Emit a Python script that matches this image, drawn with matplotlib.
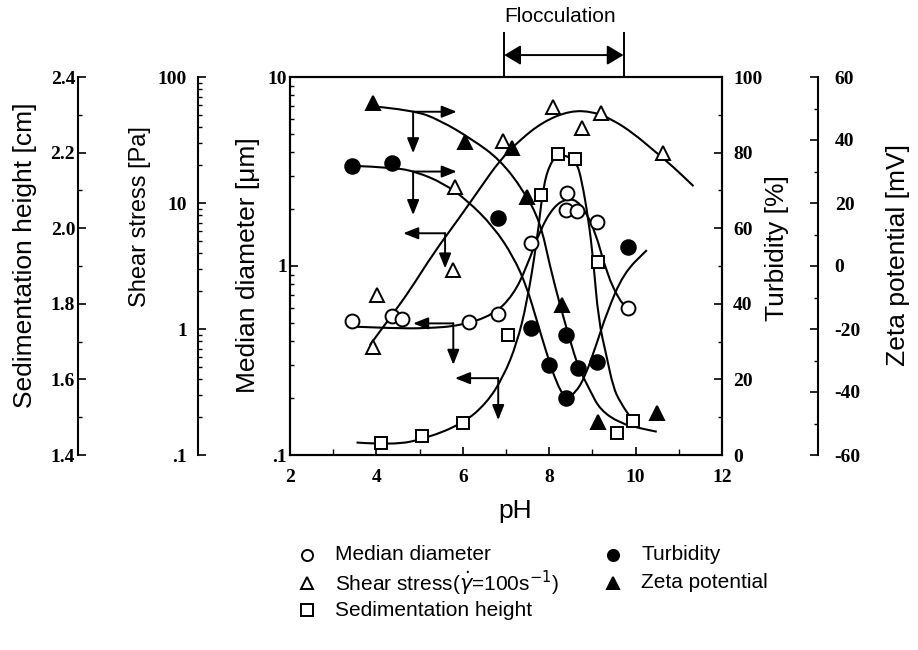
import numpy as np
import matplotlib
matplotlib.use('Agg')
import matplotlib.pyplot as plt
from matplotlib.path import Path
from matplotlib.patches import PathPatch
from matplotlib.lines import Line2D
from matplotlib.ticker import MultipleLocator, LogLocator, NullFormatter

plt.rcParams['font.family'] = ['Liberation Sans', 'DejaVu Sans']

md_ph = [3.43, 4.37, 4.59, 6.15, 6.81, 7.59, 8.42, 8.39, 8.65, 9.10, 9.83]
md_val = [0.51, 0.544, 0.522, 0.507, 0.557, 1.33, 2.42, 1.98, 1.96, 1.70, 0.60]      # um

ss_ph = [3.93, 4.01, 5.77, 5.82, 6.92, 8.08, 8.75, 9.19, 10.64]
ss_val = [0.724, 1.86, 2.94, 13.5, 31.0, 58.2, 39.1, 51.5, 25.1]                     # Pa

sh_ph = [4.10, 5.05, 6.01, 7.05, 7.80, 8.21, 8.60, 9.14, 9.58, 9.93]
sh_val = [1.431, 1.451, 1.484, 1.717, 2.088, 2.195, 2.182, 1.911, 1.459, 1.491]       # cm

tb_ph = [3.43, 4.37, 6.81, 7.59, 8.00, 8.40, 8.39, 8.67, 9.11, 9.83]
tb_val = [76.5, 77.2, 62.6, 33.5, 23.8, 31.7, 15.0, 22.9, 24.7, 54.9]                # %

zp_ph = [3.93, 6.05, 7.13, 7.48, 8.29, 9.14, 10.49]
zp_val = [51.7, 39.5, 37.4, 22.0, -12.4, -49.4, -46.8]                                # mV

# ---- hand drawn guide curves ----
md_fit_ph = [3.43, 4.39, 5.16, 5.94, 6.71, 7.17, 7.48, 7.79, 8.10, 8.41, 8.71, 9.06, 9.33, 9.64, 9.83]
md_fit = [0.478, 0.468, 0.468, 0.483, 0.551, 0.703, 0.99, 1.55, 2.06, 2.28, 2.19, 1.55, 0.915, 0.647, 0.60]

ss_fit_ph = [3.85, 4.39, 4.78, 5.32, 5.94, 6.40, 6.86, 7.32, 7.86, 8.48, 9.02, 9.48, 9.95, 10.41, 10.87, 11.34]
ss_fit = [0.746, 1.33, 2.04, 3.99, 7.79, 13.1, 21.9, 31.6, 44.2, 54.0, 53.1, 45.6, 35.7, 26.3, 19.4, 13.6]

sh_fit_ph = [3.54, 4.39, 5.16, 6.01, 6.55, 6.94, 7.25, 7.48, 7.71, 7.86, 8.02, 8.21, 8.48, 8.64,
             8.75, 8.91, 9.02, 9.14, 9.33, 9.48, 9.64, 9.95]
sh_fit = [1.433, 1.426, 1.444, 1.484, 1.537, 1.607, 1.695, 1.801, 1.960, 2.110, 2.172, 2.194, 2.189, 2.172,
          2.128, 2.022, 1.916, 1.757, 1.66, 1.58, 1.54, 1.488]

tb_fit_ph = [3.43, 4.39, 4.93, 5.55, 6.09, 6.71, 7.17, 7.48, 7.71, 7.94, 8.17, 8.37, 8.60, 8.83, 9.10, 9.33, 9.72, 10.26]
tb_fit = [76.5, 76.1, 74.9, 71.9, 67.5, 60.4, 52.5, 44.5, 35.7, 26.9, 19.0, 15.0, 16.3, 20.7, 29.5, 37.5, 48.1, 54.2]

zp_fit_ph = [3.85, 4.85, 5.47, 6.24, 6.86, 7.40, 7.79, 8.02, 8.25, 8.48, 8.67, 8.94, 9.18, 9.64, 10.10, 10.49]
zp_fit = [50.8, 49.5, 46.3, 40.0, 33.7, 24.1, 14.1, -0.2, -12.4, -23.5, -32.0, -39.4, -45.7, -49.9, -51.5, -52.6]

# axis-pointer arrows, in (pH, median diameter) coords: corner x, corner y, horizontal end, vertical end
pointers = [(4.85, 6.55, 5.86, 3.95),
            (4.85, 3.16, 5.86, 1.86),
            (5.59, 1.49, 4.62, 0.97),
            (5.78, 0.497, 4.85, 0.30),
            (6.82, 0.255, 5.82, 0.153)]

floc_range = [6.96, 9.72]

TICKFONT = dict(fontsize=14, fontweight='bold', family='Liberation Serif')
LABFONT = 19


def smooth_curve(axis, xs, ys, logy=False):
    # quadratic bezier through midpoints, drawn by the axis transform
    verts = [(xs[0], ys[0])]
    codes = [Path.MOVETO]
    for i in range(1, len(xs) - 1):
        mx = (xs[i] + xs[i + 1]) / 2
        my = np.sqrt(ys[i] * ys[i + 1]) if logy else (ys[i] + ys[i + 1]) / 2
        verts += [(xs[i], ys[i]), (mx, my)]
        codes += [Path.CURVE3, Path.CURVE3]
    verts.append((xs[-1], ys[-1]))
    codes.append(Path.LINETO)
    axis.add_patch(PathPatch(Path(verts, codes), fill=False, lw=1.5, edgecolor='black', zorder=2))


def style_ticks(axis):
    axis.tick_params(axis='y', which='major', direction='in', length=6, width=1.2)
    axis.tick_params(axis='y', which='minor', direction='in', length=3, width=1.0)


fig = plt.figure(figsize=(9.18, 6.5), dpi=100)
ax = fig.add_axes([290 / 918, 1 - 455 / 650, 432 / 918, 378 / 650])

# main: pH vs median diameter
ax.set_xlim(2, 12)
ax.set_yscale('log')
ax.set_ylim(0.1, 10)
ax.set_xticks([2, 4, 6, 8, 10, 12], ['2', '4', '6', '8', '10', '12'], **TICKFONT)
ax.xaxis.set_minor_locator(MultipleLocator(1))
ax.tick_params(axis='x', which='major', direction='in', length=6, width=1.2, pad=10, top=False)
ax.tick_params(axis='x', which='minor', direction='in', length=4, width=1.0, top=False)
ax.set_yticks([0.1, 1, 10], ['.1', '1', '10'], **TICKFONT)
ax.yaxis.set_minor_locator(LogLocator(subs=np.arange(2, 10)))
ax.yaxis.set_minor_formatter(NullFormatter())
style_ticks(ax)
ax.tick_params(axis='y', which='both', pad=2, right=False)

# turbidity (right)
ax_t = ax.twinx()
ax_t.set_ylim(0, 100)
ax_t.set_yticks([0, 20, 40, 60, 80, 100], ['0', '20', '40', '60', '80', '100'], **TICKFONT)
ax_t.yaxis.set_minor_locator(MultipleLocator(10))
style_ticks(ax_t)
ax_t.tick_params(axis='y', pad=8)

# zeta potential (far right)
ax_z = ax.twinx()
ax_z.set_ylim(-60, 60)
ax_z.spines['right'].set_position(('axes', (818 - 290) / 432))
ax_z.set_yticks([-60, -40, -20, 0, 20, 40, 60], ['-60', '-40', '-20', '0', '20', '40', '60'], **TICKFONT)
ax_z.yaxis.set_minor_locator(MultipleLocator(10))
style_ticks(ax_z)
ax_z.tick_params(axis='y', pad=12)

# shear stress (left)
ax_s = ax.twinx()
ax_s.set_yscale('log')
ax_s.set_ylim(0.1, 100)
ax_s.spines['left'].set_position(('axes', (198 - 290) / 432))
ax_s.yaxis.set_ticks_position('left')
ax_s.set_yticks([0.1, 1, 10, 100], ['.1', '1', '10', '100'], **TICKFONT)
ax_s.yaxis.set_minor_locator(LogLocator(subs=np.arange(2, 10)))
ax_s.yaxis.set_minor_formatter(NullFormatter())
style_ticks(ax_s)
ax_s.tick_params(axis='y', pad=8)

# sedimentation height (far left)
ax_h = ax.twinx()
ax_h.set_ylim(1.4, 2.4)
ax_h.spines['left'].set_position(('axes', (78 - 290) / 432))
ax_h.yaxis.set_ticks_position('left')
ax_h.set_yticks([1.4, 1.6, 1.8, 2.0, 2.2, 2.4], ['1.4', '1.6', '1.8', '2.0', '2.2', '2.4'], **TICKFONT)
ax_h.yaxis.set_minor_locator(MultipleLocator(0.1))
style_ticks(ax_h)
ax_h.tick_params(axis='y', pad=2)

# overlay axis for the median diameter markers and the pointer arrows
ax_m = ax.twinx()
ax_m.set_yscale('log')
ax_m.set_ylim(0.1, 10)
ax_m.axis('off')

for a in [ax, ax_t, ax_z, ax_s, ax_h]:
    for s in a.spines.values():
        s.set_linewidth(1.5)
for a in [ax_z, ax_s, ax_h]:
    for name in ['top', 'bottom']:
        a.spines[name].set_visible(False)
ax_z.spines['left'].set_visible(False)
ax_s.spines['right'].set_visible(False)
ax_h.spines['right'].set_visible(False)

# curves
smooth_curve(ax, md_fit_ph, md_fit, logy=True)
smooth_curve(ax_s, ss_fit_ph, ss_fit, logy=True)
smooth_curve(ax_h, sh_fit_ph, sh_fit)
smooth_curve(ax_t, tb_fit_ph, tb_fit)
smooth_curve(ax_z, zp_fit_ph, zp_fit)

# data markers
mk = dict(linestyle='none', markeredgecolor='black', markeredgewidth=1.4, zorder=5, clip_on=False)
ax_h.plot(sh_ph, sh_val, marker='s', markerfacecolor='white', markersize=9, **mk)
ax_s.plot(ss_ph, ss_val, marker='^', markerfacecolor='white', markersize=10, **mk)
ax_t.plot(tb_ph, tb_val, marker='o', markerfacecolor='black', markersize=10.5, **mk)
ax_z.plot(zp_ph, zp_val, marker='^', markerfacecolor='black', markersize=10.5, **mk)
ax_m.plot(md_ph, md_val, marker='o', markerfacecolor='white', markersize=10, **mk)

# pointer arrows
arr = dict(arrowstyle='-|>,head_length=0.45,head_width=0.18', color='black', lw=1.4,
           mutation_scale=20, shrinkA=0, shrinkB=0)
for x0, y0, x1, y2 in pointers:
    ax_m.annotate('', xy=(x1, y0), xytext=(x0, y0), arrowprops=arr)
    ax_m.annotate('', xy=(x0, y2), xytext=(x0, y0), arrowprops=arr)

# flocculation bracket
trans = ax.get_xaxis_transform()
for x in floc_range:
    ax.plot([x, x], [1.0, 1.116], transform=trans, color='black', lw=1.4, clip_on=False)
ax.annotate('', xy=(floc_range[1], 1.058), xytext=(floc_range[0], 1.058), xycoords=trans,
            textcoords=trans, annotation_clip=False,
            arrowprops=dict(arrowstyle='<|-|>,head_length=0.5,head_width=0.3', color='black',
                            lw=1.4, mutation_scale=20, shrinkA=0, shrinkB=0))
ax.text(8.25, 1.16, 'Flocculation', transform=trans, ha='center', va='center', fontsize=15)

# axis labels
fig.text(25 / 918, 1 - 255 / 650, 'Sedimentation height [cm]', rotation=90, ha='center', va='center', fontsize=LABFONT)
fig.text(140 / 918, 1 - 217 / 650, 'Shear stress [Pa]', rotation=90, ha='center', va='center', fontsize=17)
fig.text(248 / 918, 1 - 265 / 650, 'Median diameter [\u03bcm]', rotation=90, ha='center', va='center', fontsize=LABFONT)
fig.text(777 / 918, 1 - 248 / 650, 'Turbidity [%]', rotation=90, ha='center', va='center', fontsize=LABFONT)
fig.text(898 / 918, 1 - 255 / 650, 'Zeta potential [mV]', rotation=90, ha='center', va='center', fontsize=LABFONT)
fig.text(515 / 918, 1 - 511 / 650, 'pH', ha='center', va='center', fontsize=19)

# legend (drawn by hand to keep the original layout)
legend_items = [('o', 'white', 'Median diameter', 307, 555),
                ('^', 'white', r'Shear stress($\dot{\gamma}$=100s$^{-1}$)', 307, 583),
                ('s', 'white', 'Sedimentation height', 307, 610),
                ('o', 'black', 'Turbidity', 613, 555),
                ('^', 'black', 'Zeta potential', 613, 583)]
for m, fc, text, px, py in legend_items:
    fig.add_artist(Line2D([px / 918], [1 - py / 650], marker=m, markerfacecolor=fc,
                          markeredgecolor='black', markeredgewidth=1.4, markersize=8,
                          linestyle='none', transform=fig.transFigure))
    fig.text((px + 28) / 918, 1 - py / 650, text, ha='left', va='center', fontsize=15)

fig.savefig('out.png', dpi=100)
